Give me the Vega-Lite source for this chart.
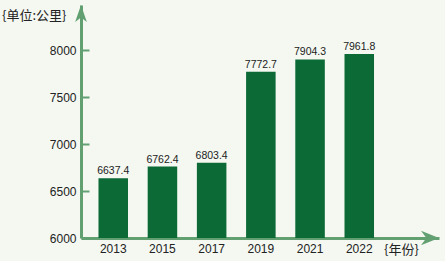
{
  "$schema": "https://vega.github.io/schema/vega-lite/v6.json",
  "width": 358,
  "height": 233,
  "autosize": {"type": "none"},
  "padding": {"left": 81, "top": 5, "right": 6, "bottom": 23},
  "background": "#f4f8f1",
  "config": {"view": {"stroke": null}, "font": "Liberation Sans"},
  "title": {
    "text": "{单位:公里}",
    "anchor": "start",
    "frame": "group",
    "dx": -79,
    "dy": 22,
    "fontSize": 13,
    "fontWeight": "normal",
    "font": "Noto Sans CJK SC",
    "color": "#222222"
  },
  "resolve": {"scale": {"x": "independent"}},
  "layer": [
    {
      "data": {
        "values": [
          {"year": "2013", "km": 6637.4},
          {"year": "2015", "km": 6762.4},
          {"year": "2017", "km": 6803.4},
          {"year": "2019", "km": 7772.7},
          {"year": "2021", "km": 7904.3},
          {"year": "2022", "km": 7961.8}
        ]
      },
      "encoding": {
        "x": {
          "field": "year",
          "type": "ordinal",
          "scale": {"paddingInner": 0.4, "paddingOuter": 0.838, "align": 0.212},
          "axis": {
            "title": "{年份}",
            "titleFont": "Noto Sans CJK SC",
            "titleFontSize": 13,
            "titleFontWeight": "normal",
            "titleColor": "#222222",
            "titleX": 320,
            "titleY": 11,
            "titleAlign": "center",
            "titleBaseline": "middle",
            "labelAngle": 0,
            "labelFontSize": 12,
            "labelColor": "#222222",
            "labelPadding": 5,
            "ticks": false,
            "domainColor": "#62a072",
            "domainWidth": 3
          }
        },
        "y": {
          "field": "km",
          "type": "quantitative",
          "scale": {"domain": [6000, 8485], "nice": false, "zero": false, "clamp": true},
          "axis": {
            "title": null,
            "values": [6000, 6500, 7000, 7500, 8000],
            "format": "d",
            "grid": false,
            "labelFontSize": 12,
            "labelColor": "#222222",
            "labelPadding": 13,
            "tickSize": -8,
            "tickWidth": 2,
            "tickColor": "#62a072",
            "domainColor": "#62a072",
            "domainWidth": 3
          }
        }
      },
      "layer": [
        {"mark": {"type": "bar", "color": "#0b6a35"}},
        {
          "mark": {"type": "text", "baseline": "alphabetic", "dy": -4, "fontSize": 10.5, "color": "#222222"},
          "encoding": {"text": {"field": "km", "type": "quantitative", "format": ".1f"}}
        }
      ]
    },
    {
      "data": {
        "values": [
          {"ax": 1, "ay": 6000, "dir": "right"},
          {"ax": 0, "ay": 8485, "dir": "up"}
        ]
      },
      "mark": {"type": "point", "filled": true, "opacity": 1, "color": "#62a072", "size": 324},
      "encoding": {
        "x": {"field": "ax", "type": "quantitative", "scale": {"domain": [0, 1], "nice": false, "zero": false}, "axis": null},
        "y": {"field": "ay", "type": "quantitative"},
        "shape": {
          "field": "dir",
          "type": "nominal",
          "scale": {
            "domain": ["right", "up"],
            "range": ["M 0 0 L -2 -0.8 L -1.4 0 L -2 0.8 Z", "M 0 0 L -0.65 1.9 L 0 1.4 L 0.65 1.9 Z"]
          },
          "legend": null
        }
      }
    }
  ]
}
